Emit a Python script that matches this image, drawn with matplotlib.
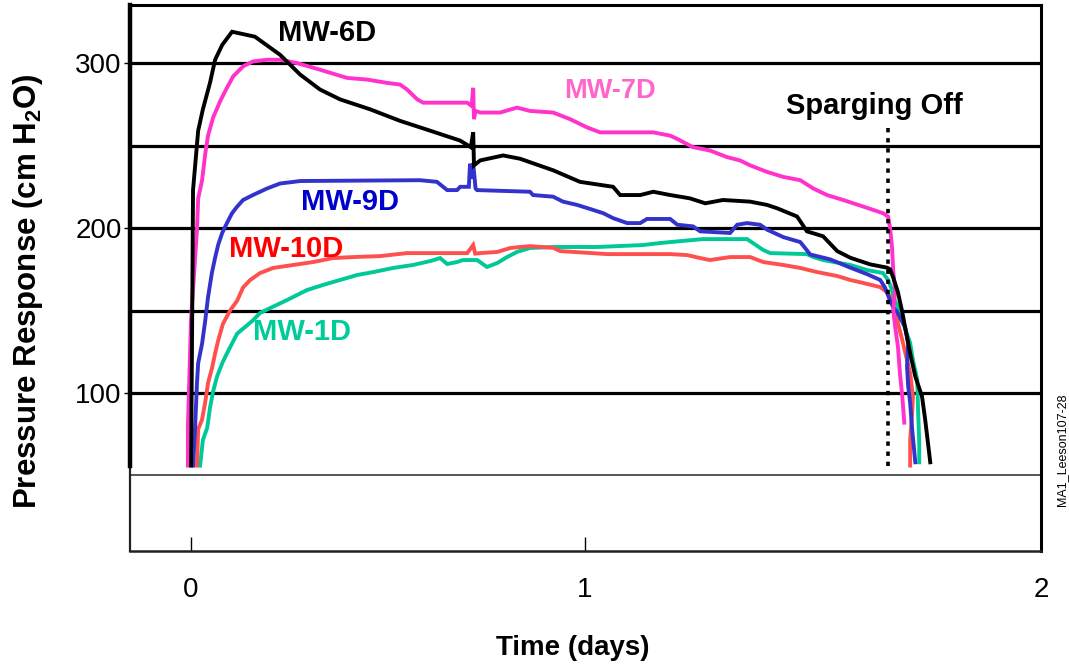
import matplotlib
matplotlib.use('Agg')
import matplotlib.pyplot as plt

plt.rcParams['font.family'] = ['Liberation Sans', 'DejaVu Sans']
plt.rcParams['mathtext.fontset'] = 'custom'
plt.rcParams['mathtext.rm'] = 'Liberation Sans:bold'
plt.rcParams['mathtext.bf'] = 'Liberation Sans:bold'

# ---- data (time in days, pressure in cm H2O) ----
MW6D = [(0.000, 56), (0.003, 150), (0.005, 223), (0.018, 259), (0.030, 272), (0.048, 288),
        (0.061, 302), (0.079, 311), (0.104, 319), (0.162, 316), (0.226, 305), (0.277, 293),
        (0.327, 284), (0.378, 278), (0.454, 272), (0.530, 265), (0.607, 259), (0.683, 253),
        (0.710, 249), (0.716, 258), (0.718, 238), (0.734, 241), (0.792, 244), (0.835, 242),
        (0.919, 235), (0.987, 228), (1.071, 225), (1.089, 220), (1.140, 220), (1.173, 222),
        (1.216, 220), (1.266, 218), (1.305, 215), (1.350, 217), (1.419, 216), (1.462, 214),
        (1.487, 212), (1.538, 207), (1.563, 198), (1.604, 195), (1.640, 186), (1.673, 182),
        (1.723, 178), (1.766, 176), (1.774, 175), (1.782, 170), (1.794, 161), (1.805, 149),
        (1.812, 140), (1.825, 124), (1.838, 110), (1.855, 98), (1.863, 84), (1.876, 58)]

MW7D = [(-0.008, 56), (-0.008, 80), (0.000, 145), (0.015, 199), (0.018, 218), (0.028, 229),
        (0.036, 245), (0.043, 256), (0.056, 267), (0.074, 277), (0.091, 285), (0.107, 292),
        (0.132, 298), (0.157, 301), (0.193, 302), (0.226, 302), (0.269, 300), (0.327, 296),
        (0.396, 291), (0.447, 290), (0.497, 288), (0.530, 287), (0.548, 284), (0.574, 278),
        (0.589, 276), (0.701, 276), (0.712, 274), (0.716, 285), (0.718, 266), (0.722, 271),
        (0.734, 270), (0.784, 270), (0.827, 273), (0.860, 271), (0.919, 270), (0.962, 266),
        (1.005, 261), (1.038, 258), (1.173, 258), (1.216, 256), (1.234, 254), (1.274, 249),
        (1.317, 247), (1.360, 243), (1.393, 241), (1.419, 238), (1.462, 234), (1.503, 231),
        (1.546, 229), (1.579, 224), (1.614, 220), (1.655, 217), (1.706, 213), (1.756, 209),
        (1.769, 207), (1.774, 200), (1.779, 188), (1.782, 174), (1.787, 162), (1.782, 150),
        (1.787, 140), (1.794, 128), (1.799, 112), (1.805, 98), (1.810, 82)]

MW9D = [(0.005, 56), (0.010, 78), (0.015, 106), (0.018, 118), (0.028, 130), (0.036, 144),
        (0.043, 158), (0.053, 173), (0.061, 182), (0.069, 190), (0.079, 197), (0.091, 203),
        (0.104, 209), (0.117, 213), (0.132, 217), (0.157, 220), (0.193, 224), (0.226, 227),
        (0.277, 228.5), (0.581, 229), (0.624, 228), (0.650, 223), (0.675, 223), (0.683, 225),
        (0.705, 225), (0.708, 239), (0.712, 230), (0.716, 239), (0.722, 224), (0.726, 223),
        (0.860, 222), (0.868, 220), (0.919, 219), (0.944, 216), (0.980, 214), (1.020, 211),
        (1.046, 209), (1.071, 206), (1.107, 203), (1.140, 203), (1.157, 205.5), (1.216, 205.5),
        (1.234, 202), (1.274, 201), (1.292, 198), (1.368, 197), (1.386, 202), (1.411, 203),
        (1.444, 202), (1.462, 199), (1.503, 194.5), (1.546, 191.5), (1.558, 188), (1.571, 184),
        (1.622, 181), (1.673, 176), (1.716, 172), (1.749, 168.5), (1.761, 164), (1.774, 156),
        (1.782, 152), (1.792, 149), (1.812, 140), (1.820, 130), (1.817, 116), (1.820, 104),
        (1.825, 94), (1.830, 78), (1.838, 58)]

MW10D = [(0.015, 56), (0.018, 78), (0.028, 84), (0.036, 94.5), (0.043, 106), (0.053, 115),
         (0.061, 124), (0.069, 132), (0.081, 142), (0.099, 150), (0.117, 156), (0.132, 164),
         (0.150, 168.5), (0.175, 172.7), (0.208, 175.8), (0.259, 177.6), (0.310, 179.4),
         (0.360, 181.8), (0.411, 182.4), (0.480, 183), (0.548, 184.8), (0.607, 184.8),
         (0.701, 184.8), (0.716, 189.7), (0.721, 184.5), (0.734, 184.8), (0.777, 185.5),
         (0.810, 187.9), (0.835, 188.5), (0.860, 189), (0.919, 188), (0.937, 186), (1.005, 185),
         (1.056, 184.2), (1.216, 184.2), (1.259, 183.6), (1.292, 181.8), (1.317, 180.6),
         (1.368, 182.4), (1.419, 182.4), (1.452, 179.4), (1.503, 177.6), (1.546, 175.8),
         (1.589, 173.3), (1.640, 170.9), (1.673, 168.5), (1.706, 166.7), (1.749, 164.2),
         (1.766, 161.2), (1.774, 158.2), (1.782, 152), (1.792, 148.5), (1.794, 142.4),
         (1.805, 132), (1.817, 120), (1.825, 112), (1.832, 97.6), (1.830, 88), (1.825, 71.5),
         (1.825, 56)]

MW1D = [(0.023, 56), (0.030, 71.5), (0.041, 79), (0.048, 91), (0.056, 101), (0.066, 110),
        (0.079, 118), (0.091, 124), (0.104, 130), (0.117, 136), (0.137, 140), (0.157, 144),
        (0.175, 148.5), (0.201, 151.5), (0.244, 156.4), (0.294, 162.4), (0.335, 165.5),
        (0.378, 168.5), (0.421, 171.5), (0.462, 173.3), (0.513, 175.8), (0.563, 177.6),
        (0.607, 180), (0.632, 181.8), (0.650, 178.2), (0.675, 179.4), (0.690, 180.6),
        (0.726, 180.6), (0.751, 176.4), (0.777, 178.8), (0.802, 182.4), (0.827, 185.5),
        (0.860, 187.9), (0.919, 188.5), (1.030, 188.5), (1.147, 189.7), (1.190, 190.9),
        (1.216, 191.5), (1.299, 193.3), (1.411, 193.3), (1.426, 190.9), (1.452, 186.7),
        (1.470, 184.8), (1.563, 184.2), (1.579, 182.4), (1.604, 180.6), (1.673, 177.6),
        (1.716, 174.5), (1.756, 172.7), (1.769, 168.5), (1.779, 162.4), (1.782, 158.2),
        (1.794, 152.1), (1.807, 142.4), (1.825, 130.3), (1.832, 120), (1.843, 108),
        (1.845, 90), (1.848, 70), (1.848, 58)]

series_names = ['MW-1D', 'MW-10D', 'MW-9D', 'MW-7D', 'MW-6D']
series_data = [MW1D, MW10D, MW9D, MW7D, MW6D]
line_colors = ['#00C896', '#FF5050', '#3333CC', '#FF33CC', '#000000']

# label annotations: (text, x, y, color, size)
labels = [('MW-6D', 0.345, 318, '#000000', 21),
          ('MW-7D', 1.063, 283, '#FF66CC', 19.5),
          ('MW-9D', 0.404, 216, '#0000CC', 21),
          ('MW-10D', 0.242, 187, '#FF0000', 21),
          ('MW-1D', 0.282, 137, '#00CC99', 21)]

sparge_x = 1.769
sparge_y = (56, 262)

grid_major = [100, 150, 200, 250, 300]
ytick_vals = [100, 200, 300]
xtick_vals = [0, 1, 2.157]
xtick_labels = ['0', '1', '2']
xlim = (-0.155, 2.157)
ylim = (4.2, 335.2)

fig = plt.figure(figsize=(10.69, 6.68), dpi=100)
ax = fig.add_axes([0.1216, 0.1751, 0.8522, 0.8174])
ax.set_xlim(*xlim)
ax.set_ylim(*ylim)

for g in grid_major:
    ax.axhline(g, color='black', lw=2.3, zorder=1)
ax.axhline(50, color='#555555', lw=1.4, zorder=1)

for data, col in zip(series_data, line_colors):
    xs = [p[0] for p in data]
    ys = [p[1] for p in data]
    ax.plot(xs, ys, color=col, lw=2.8, zorder=3, solid_joinstyle='miter')

ax.plot([sparge_x, sparge_x], list(sparge_y), color='black', lw=2.6,
        linestyle=(0, (1.2, 1.6)), zorder=4)

for txt, x, y, c, s in labels:
    ax.text(x, y, txt, color=c, fontsize=s, fontweight='bold', ha='center', va='center', zorder=5)
ax.text(1.733, 274, 'Sparging Off', color='black', fontsize=21, fontweight='bold',
        ha='center', va='center', zorder=5)

# spines
for side in ['top', 'right']:
    ax.spines[side].set_linewidth(2.2)
    ax.spines[side].set_color('black')
ax.spines['bottom'].set_linewidth(1.8)
ax.spines['bottom'].set_color('#222222')
ax.spines['left'].set_linewidth(1.6)
ax.spines['left'].set_color('#222222')
ax.axvline(xlim[0], ymin=(56 - ylim[0]) / (ylim[1] - ylim[0]), ymax=1, color='black',
           lw=3.2, clip_on=False, zorder=6)

ax.set_xticks(xtick_vals)
ax.set_xticklabels(xtick_labels)
ax.set_yticks(ytick_vals)
ax.tick_params(axis='x', direction='in', length=10, width=1, pad=19, labelsize=20)
ax.tick_params(axis='y', direction='out', length=4, width=1, pad=2, labelsize=20)

ax.set_ylabel('Pressure Response (cm H$_\\mathregular{2}$O)', fontsize=22.5, fontweight='bold')
ax.yaxis.set_label_coords(-0.093, 0.476)
ax.set_xlabel('Time (days)', fontsize=20, fontweight='bold')
ax.xaxis.set_label_coords(0.486, -0.153)

fig.text(0.9935, 0.326, 'MA1_Leeson107-28', rotation=90, fontsize=9,
         ha='center', va='center')

fig.savefig('out.png', dpi=100)
